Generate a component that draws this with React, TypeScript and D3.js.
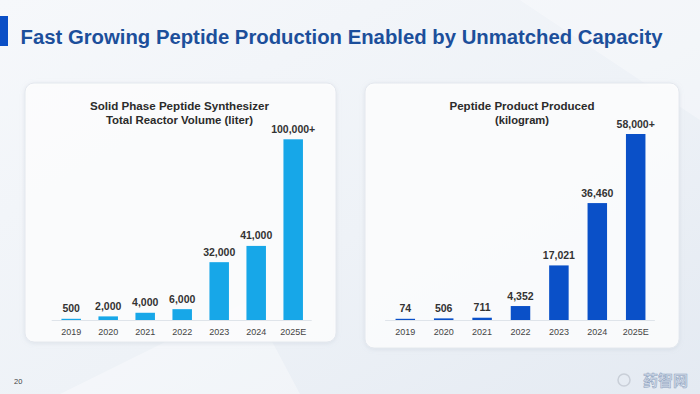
import React from "react";
import * as d3 from "d3";

const years = ["2019", "2020", "2021", "2022", "2023", "2024", "2025E"];
const reactorVolume = [500, 2000, 4000, 6000, 32000, 41000, 100000];
const reactorLabels = ["500", "2,000", "4,000", "6,000", "32,000", "41,000", "100,000+"];
const peptideKg = [74, 506, 711, 4352, 17021, 36460, 58000];
const peptideLabels = ["74", "506", "711", "4,352", "17,021", "36,460", "58,000+"];

const W = 700;
const H = 394;
const FONT = "'Liberation Sans', Arial, Helvetica, sans-serif";

type PanelProps = {
  box: { x: number; y: number; w: number; h: number };
  title: string[];
  titleWidths: number[];
  titleCx: number;
  values: number[];
  labels: string[];
  max: number;
  xRange: [number, number];
  yTop: number;
  color: string;
};

function Panel({ box, title, titleWidths, titleCx, values, labels, max, xRange, yTop, color }: PanelProps) {
  const baseY = 320;
  const x = d3.scalePoint<string>().domain(years).range(xRange).padding(0.5);
  const y = d3.scaleLinear().domain([0, max]).range([baseY, yTop]);
  const bw = 19.5;
  return (
    <g>
      <rect
        x={box.x}
        y={box.y}
        width={box.w}
        height={box.h}
        rx={9}
        fill="#ffffff"
        fillOpacity={0.82}
        stroke="#e4e8ee"
        strokeWidth={1}
        filter="url(#shadow)"
      />
      {title.map((t, i) => (
        <text
          key={t}
          x={titleCx}
          y={110 + i * 13.8}
          textAnchor="middle"
          fontFamily={FONT}
          fontWeight="bold"
          fontSize={11.5}
          fill="#2b2b2b"
          textLength={titleWidths[i]}
          lengthAdjust="spacingAndGlyphs"
        >
          {t}
        </text>
      ))}
      <line x1={xRange[0] - 1} x2={xRange[1]} y1={baseY + 0.5} y2={baseY + 0.5} stroke="#dfe4ea" strokeWidth={1} />
      {years.map((yr, i) => {
        const cx = x(yr) as number;
        const top = Math.min(y(values[i]), baseY - 1.2);
        return (
          <g key={yr}>
            <rect x={cx - bw / 2} y={top} width={bw} height={baseY - top} fill={color} />
            <text
              x={cx}
              y={top - 6.5}
              textAnchor="middle"
              fontFamily={FONT}
              fontWeight="bold"
              fontSize={10.5}
              fill="#333333"
            >
              {labels[i]}
            </text>
            <text x={cx} y={335} textAnchor="middle" fontFamily={FONT} fontSize={9} fill="#444444">
              {yr}
            </text>
          </g>
        );
      })}
    </g>
  );
}

export default function App() {
  return (
    <div style={{ position: "absolute", left: 0, top: 0 }}>
      <svg width={W} height={H} viewBox={`0 0 ${W} ${H}`} style={{ display: "block" }}>
        <defs>
          <linearGradient id="bg" x1="0" y1="0" x2="1" y2="1">
            <stop offset="0%" stopColor="#f6f8fb" />
            <stop offset="55%" stopColor="#eef2f7" />
            <stop offset="100%" stopColor="#e4eaf2" />
          </linearGradient>
          <filter id="shadow" x="-10%" y="-10%" width="120%" height="120%">
            <feDropShadow dx="0" dy="1" stdDeviation="2" floodColor="#9aa8ba" floodOpacity="0.25" />
          </filter>
        </defs>
        <rect x={0} y={0} width={W} height={H} fill="url(#bg)" />
        <polygon points="60,394 250,300 300,394" fill="#ffffff" opacity={0.35} />
        <polygon points="520,0 700,0 700,120" fill="#ffffff" opacity={0.3} />
        <rect x={0} y={16} width={8} height={30} fill="#0b4fc6" />
        <text
          x={20.5}
          y={43.5}
          fontFamily={FONT}
          fontWeight="bold"
          fontSize={19.5}
          fill="#1c4f9b"
          textLength={642}
          lengthAdjust="spacingAndGlyphs"
        >
          Fast Growing Peptide Production Enabled by Unmatched Capacity
        </text>

        <Panel
          box={{ x: 25, y: 83, w: 311, h: 259 }}
          title={["Solid Phase Peptide Synthesizer", "Total Reactor Volume (liter)"]}
          titleWidths={[179, 147]}
          titleCx={179.5}
          values={reactorVolume}
          labels={reactorLabels}
          max={100000}
          xRange={[52.7, 311.7]}
          yTop={139.3}
          color="#17a7e8"
        />
        <Panel
          box={{ x: 365, y: 83, w: 314, h: 265 }}
          title={["Peptide Product Produced", "(kilogram)"]}
          titleWidths={[145, 54]}
          titleCx={522}
          values={peptideKg}
          labels={peptideLabels}
          max={58000}
          xRange={[386.1, 654.9]}
          yTop={134}
          color="#0a50c8"
        />

        <text x={14} y={384} fontFamily={FONT} fontSize={7.5} fill="#444444">
          20
        </text>
        <text
          x={688}
          y={386}
          textAnchor="end"
          fontFamily="'Noto Sans CJK SC', sans-serif"
          fontSize={15}
          fontWeight="bold"
          fill="#cfd8e6"
          stroke="#8fa3c0"
          strokeWidth={0.5}
        >
          药智网
        </text>
        <circle cx={624} cy={380} r={6} fill="none" stroke="#c9cfd8" strokeWidth={1.5} />
      </svg>
    </div>
  );
}
